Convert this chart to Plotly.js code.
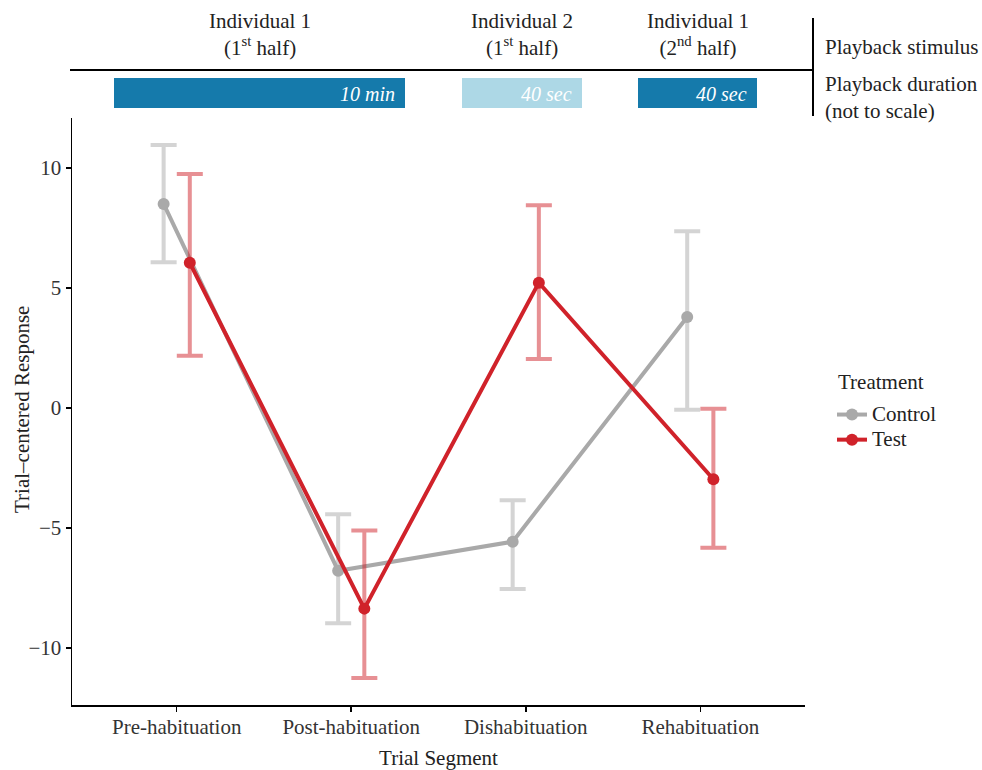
<!DOCTYPE html>
<html>
<head>
<meta charset="utf-8">
<script src="https://cdn.plot.ly/plotly-3.0.1.min.js"></script>
<style>html,body{margin:0;padding:0;background:#fff;}#chart{width:982px;height:770px;}</style>
</head>
<body>
<div id="chart"></div>
<script>
// ---- data ----
var segments = ["Pre-habituation", "Post-habituation", "Dishabituation", "Rehabituation"];
var treatments = ["Control", "Test"];
var legendTitle = "Treatment";
var controlMean = [8.5, -6.78, -5.57, 3.79];
var controlUpper = [10.96, -4.43, -3.85, 7.36];
var controlLower = [6.07, -8.97, -7.54, -0.07];
var testMean = [6.05, -8.36, 5.22, -2.97];
var testUpper = [9.75, -5.11, 8.45, -0.03];
var testLower = [2.17, -11.25, 2.04, -5.82];
var stimulusLabels = ["Individual 1<br>(1<sup>st</sup> half)", "Individual 2<br>(1<sup>st</sup> half)", "Individual 1<br>(2<sup>nd</sup> half)"];
var durationLabels = ["10 min", "40 sec", "40 sec"];
var yTickVals = [-10, -5, 0, 5, 10];
var yTickText = ["\u221210", "\u22125", "0", "5", "10"];

// ---- styling / layout helpers ----
var FONT = "Liberation Serif";
var FS = 21;
function serif(t, size) {
  return '<span style="font-family:Liberation Serif' + (size ? ';font-size:' + size + 'px' : '') + '">' + t + '</span>';
}
var colors = {Control: "#A9A9A9", Test: "#D0222A"};
var errColors = {Control: "rgba(169,169,169,0.5)", Test: "rgba(208,34,42,0.5)"};
var dodge = 0.075;

// plot-area pixel frame (for header elements in paper coords)
var L = 72, R = 805, T = 118, B = 705, W = 982, H = 770;
function px(x) { return (x - L) / (R - L); }
function py(y) { return (B - y) / (B - T); }

var barX = [[114, 405], [462, 582], [638, 757]];
var barColors = ["#157AAB", "#ADD8E6", "#157AAB"];

function makeTrace(name, mean, upper, lower, offset) {
  var xs = segments.map(function (_, i) { return i + 1 + offset; });
  return {
    type: "scatter", mode: "lines+markers", name: serif(name, FS),
    x: xs, y: mean,
    line: {color: colors[name], width: 4},
    marker: {color: colors[name], size: 12},
    error_y: {
      type: "data", symmetric: false,
      array: upper.map(function (u, i) { return u - mean[i]; }),
      arrayminus: lower.map(function (l, i) { return mean[i] - l; }),
      color: errColors[name], thickness: 4, width: 13
    },
    hoverinfo: "x+y"
  };
}

var traces = [
  makeTrace(treatments[0], controlMean, controlUpper, controlLower, -dodge),
  makeTrace(treatments[1], testMean, testUpper, testLower, dodge)
];

var shapes = [
  {type: "line", xref: "paper", yref: "paper", x0: px(70), x1: px(813), y0: py(70), y1: py(70), line: {color: "#000", width: 2}},
  {type: "line", xref: "paper", yref: "paper", x0: px(813), x1: px(813), y0: py(18), y1: py(116), line: {color: "#000", width: 2}}
];
var annotations = [];
barX.forEach(function (b, i) {
  shapes.push({type: "rect", xref: "paper", yref: "paper", x0: px(b[0]), x1: px(b[1]), y0: py(108), y1: py(78), fillcolor: barColors[i], line: {width: 0}});
  annotations.push({xref: "paper", yref: "paper", x: px(b[1] - 8), y: py(94), xanchor: "right", yanchor: "middle",
    text: "<i>" + durationLabels[i] + "</i>", showarrow: false, font: {family: FONT, size: FS - 1, color: "#fff"}});
  annotations.push({xref: "paper", yref: "paper", x: px((b[0] + b[1]) / 2), y: py(34), xanchor: "center", yanchor: "middle",
    text: stimulusLabels[i], showarrow: false, font: {family: FONT, size: FS, color: "#222"}});
});
annotations.push({xref: "paper", yref: "paper", x: px(823), y: py(47), xanchor: "left", yanchor: "middle",
  text: "Playback stimulus", showarrow: false, font: {family: FONT, size: FS, color: "#222"}});
annotations.push({xref: "paper", yref: "paper", x: px(823), y: py(97), xanchor: "left", yanchor: "middle", align: "left",
  text: "Playback duration<br>(not to scale)", showarrow: false, font: {family: FONT, size: FS, color: "#222"}});
// y-axis title
annotations.push({xref: "paper", yref: "paper", x: px(22), y: py(410), xanchor: "center", yanchor: "middle", textangle: -90,
  text: "Trial\u2013centered Response", showarrow: false, font: {family: FONT, size: FS, color: "#222"}});
// legend title
annotations.push({xref: "paper", yref: "paper", x: px(836), y: py(382), xanchor: "left", yanchor: "middle",
  text: legendTitle, showarrow: false, font: {family: FONT, size: FS, color: "#222"}});

var layout = {
  width: W, height: H,
  margin: {l: L, r: W - R, t: T, b: H - B},
  paper_bgcolor: "#fff", plot_bgcolor: "#fff",
  font: {family: FONT, size: FS, color: "#222"},
  showlegend: true,
  xaxis: {
    range: [0.4, 4.6], tickmode: "array", tickvals: [1, 2, 3, 4], ticktext: segments,
    showgrid: false, zeroline: false, showline: true, linecolor: "#000", linewidth: 1.5,
    ticks: "outside", ticklen: 5, tickcolor: "#000", tickwidth: 1.5,
    ticklabelstandoff: -3,
    tickfont: {family: FONT, size: FS, color: "#333"},
    title: {text: "Trial Segment", font: {family: FONT, size: FS, color: "#222"}, standoff: 12}
  },
  yaxis: {
    range: [-12.375, 12.08], tickmode: "array", tickvals: yTickVals, ticktext: yTickText,
    showgrid: false, zeroline: false, showline: true, linecolor: "#000", linewidth: 1.5,
    ticks: "outside", ticklen: 5, tickcolor: "#000", tickwidth: 1.5,
    tickfont: {family: FONT, size: FS, color: "#333"}
  },
  legend: {
    x: px(832), y: py(397), xanchor: "left", yanchor: "top",
    font: {family: FONT, size: 17, color: "#222"},
    tracegroupgap: 0, itemwidth: 30, bgcolor: "rgba(0,0,0,0)"
  },
  shapes: shapes,
  annotations: annotations
};

Plotly.newPlot("chart", traces, layout, {displayModeBar: false, staticPlot: true});
</script>
</body>
</html>
